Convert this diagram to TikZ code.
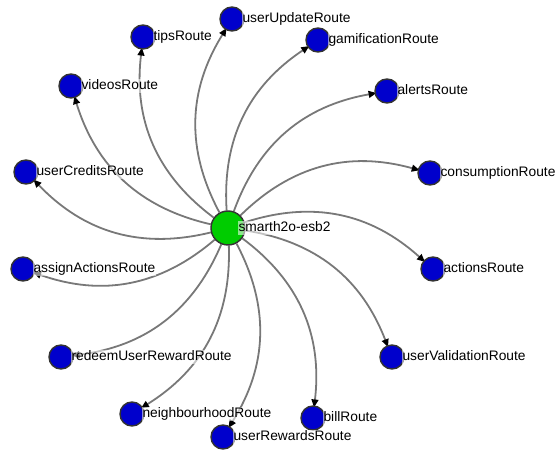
\documentclass[tikz,border=0pt]{standalone}
\usepackage{fontspec}
\setmainfont{Liberation Sans}
\usetikzlibrary{positioning,arrows.meta,backgrounds}
\definecolor{routeblue}{RGB}{0,0,204}
\definecolor{hubgreen}{RGB}{0,204,0}
\definecolor{edgegray}{RGB}{120,120,120}
\tikzset{
  route/.style={circle,draw=black!80,fill=routeblue,line width=0.036cm,minimum size=0.6cm,inner sep=0pt},
  hub/.style={route,fill=hubgreen,minimum size=0.85cm},
  routelabel/.style={inner sep=0.5pt,fill=white,fill opacity=0.55,text opacity=1,
    font=\fontsize{9.8}{11}\selectfont,text height=7pt,text depth=2pt},
  link/.style={draw=edgegray,line width=0.045cm,shorten >=-1.5pt,-{Triangle[length=0.2cm,width=0.17cm,color=black]}}
}
\begin{document}
\begin{tikzpicture}
        \useasboundingbox (0,0) rectangle (13.875000,11.350000);
        
        % Marking hub by circle
        \node (esb) [hub] at (5.700000,5.650000) {};%
        
        % Marking routes by circles
        \node (userUpdate) [route] at (5.800000,10.875000) {};%
        \node (tips) [route] at (3.575000,10.425000) {};%
        \node (gamification) [route] at (7.950000,10.350000) {};%
        \node (videos) [route] at (1.775000,9.200000) {};%
        \node (alerts) [route] at (9.675000,9.075000) {};%
        \node (userCredits) [route] at (0.650000,7.050000) {};%
        \node (consumption) [route] at (10.750000,7.025000) {};%
        \node (assignActions) [route] at (0.575000,4.625000) {};%
        \node (actions) [route] at (10.825000,4.625000) {};%
        \node (redeem) [route] at (1.525000,2.425000) {};%
        \node (userValidation) [route] at (9.800000,2.425000) {};%
        \node (neighbourhood) [route] at (3.300000,1.000000) {};%
        \node (bill) [route] at (7.825000,0.900000) {};%
        \node (userRewards) [route] at (5.575000,0.425000) {};%
        
        % Drawing links from hub
        \begin{scope}[on background layer]
        \foreach \r in {userUpdate,tips,gamification,videos,alerts,userCredits,consumption,
                        assignActions,actions,redeem,userValidation,neighbourhood,bill,userRewards}
          \draw [link] (esb) to [bend left=30] (\r);%
        \end{scope}
        
        % Writing labels
        \node (esbLabel) [routelabel, right=0.24cm of esb.center] {smarth2o-esb2};%
        \node (userUpdateLabel) [routelabel, right=0.24cm of userUpdate.center] {userUpdateRoute};%
        \node (tipsLabel) [routelabel, right=0.24cm of tips.center] {tipsRoute};%
        \node (gamificationLabel) [routelabel, right=0.24cm of gamification.center] {gamificationRoute};%
        \node (videosLabel) [routelabel, right=0.24cm of videos.center] {videosRoute};%
        \node (alertsLabel) [routelabel, right=0.24cm of alerts.center] {alertsRoute};%
        \node (userCreditsLabel) [routelabel, right=0.24cm of userCredits.center] {userCreditsRoute};%
        \node (consumptionLabel) [routelabel, right=0.24cm of consumption.center] {consumptionRoute};%
        \node (assignActionsLabel) [routelabel, right=0.24cm of assignActions.center] {assignActionsRoute};%
        \node (actionsLabel) [routelabel, right=0.24cm of actions.center] {actionsRoute};%
        \node (redeemLabel) [routelabel, right=0.24cm of redeem.center] {redeemUserRewardRoute};%
        \node (userValidationLabel) [routelabel, right=0.24cm of userValidation.center] {userValidationRoute};%
        \node (neighbourhoodLabel) [routelabel, right=0.24cm of neighbourhood.center] {neighbourhoodRoute};%
        \node (billLabel) [routelabel, right=0.24cm of bill.center] {billRoute};%
        \node (userRewardsLabel) [routelabel, right=0.24cm of userRewards.center] {userRewardsRoute};%
    \end{tikzpicture}
\end{document}
